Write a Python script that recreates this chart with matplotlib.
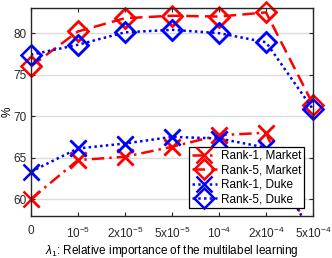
import matplotlib
matplotlib.use("Agg")
import matplotlib.pyplot as plt
import numpy as np

plt.rcParams["font.family"] = ["Liberation Sans", "DejaVu Sans"]
plt.rcParams["mathtext.fontset"] = "custom"
plt.rcParams["mathtext.rm"] = "Liberation Sans"
plt.rcParams["mathtext.it"] = "Liberation Sans:italic"

# ---- data ------------------------------------------------------------------
x_labels = ["0", r"10$^{-5}$", r"2x10$^{-5}$", r"5x10$^{-5}$",
            r"10$^{-4}$", r"2x10$^{-4}$", r"5x10$^{-4}$"]
rank1_market = [60.0, 64.7, 65.1, 66.3, 67.7, 68.0, 54.6]
rank5_market = [76.0, 80.2, 81.8, 82.1, 82.0, 82.5, 71.4]
rank1_duke = [63.3, 66.1, 66.7, 67.5, 67.3, 66.2, 55.3]
rank5_duke = [77.4, 78.6, 80.1, 80.4, 80.0, 78.9, 70.8]

YLIM = (58, 83)
FS = 8.5

fig = plt.figure(figsize=(3.32, 2.58), dpi=100)
ax = fig.add_axes([0.093, 0.164, 0.85, 0.804])

xs = np.arange(len(x_labels))
series = [
    (rank1_market, "red", (0, (5, 2, 1, 2)), "x", "Rank-1, Market"),
    (rank5_market, "red", (0, (5, 2.5)), "D", "Rank-5, Market"),
    (rank1_duke, "blue", (0, (1, 1.3)), "x", "Rank-1, Duke"),
    (rank5_duke, "blue", (0, (1, 1.3)), "D", "Rank-5, Duke"),
]

for vals, col, ls, mk, lab in series:
    vals = np.array(vals)
    ms = 12 if mk == "x" else 10
    ax.plot(xs, vals, color=col, linestyle=ls, linewidth=1.8, marker=mk,
            markersize=ms, markerfacecolor="none", markeredgewidth=1.8,
            label=lab)
    # markers on the box edge are not clipped (points inside the y range)
    ok = (vals >= YLIM[0]) & (vals <= YLIM[1])
    ax.plot(xs[ok], vals[ok], linestyle="none", marker=mk, color=col,
            markersize=ms, markerfacecolor="none", markeredgewidth=1.8,
            clip_on=False)

ax.set_xlim(0, 6)
ax.set_ylim(*YLIM)
ax.set_xticks(xs)
ax.set_xticklabels(x_labels)
ax.set_yticks([60, 65, 70, 75, 80])
ax.yaxis.grid(True, color="#dcdcdc", linewidth=1.0)
ax.set_axisbelow(True)
ax.tick_params(direction="in", length=3, width=0.8, labelsize=FS,
               top=True, right=True, colors="#262626", pad=3)
ax.tick_params(axis="x", pad=7)
for sp in ax.spines.values():
    sp.set_linewidth(1.0)
    sp.set_color("#262626")

ax.set_ylabel("%", fontsize=FS)
ax.yaxis.set_label_coords(-0.062, 0.5)
ax.set_xlabel(r"$\lambda_1$: Relative importance of the multilabel learning",
              fontsize=FS, labelpad=1.5)

leg = ax.legend(loc="lower right", fontsize=FS, frameon=True, fancybox=False,
                edgecolor="black", framealpha=1, handlelength=2.1,
                borderpad=0.25, labelspacing=0.2, handletextpad=0.35,
                borderaxespad=0, bbox_to_anchor=(0.968, 0.037))
leg.get_frame().set_linewidth(0.9)

fig.savefig("out.png", dpi=100)
